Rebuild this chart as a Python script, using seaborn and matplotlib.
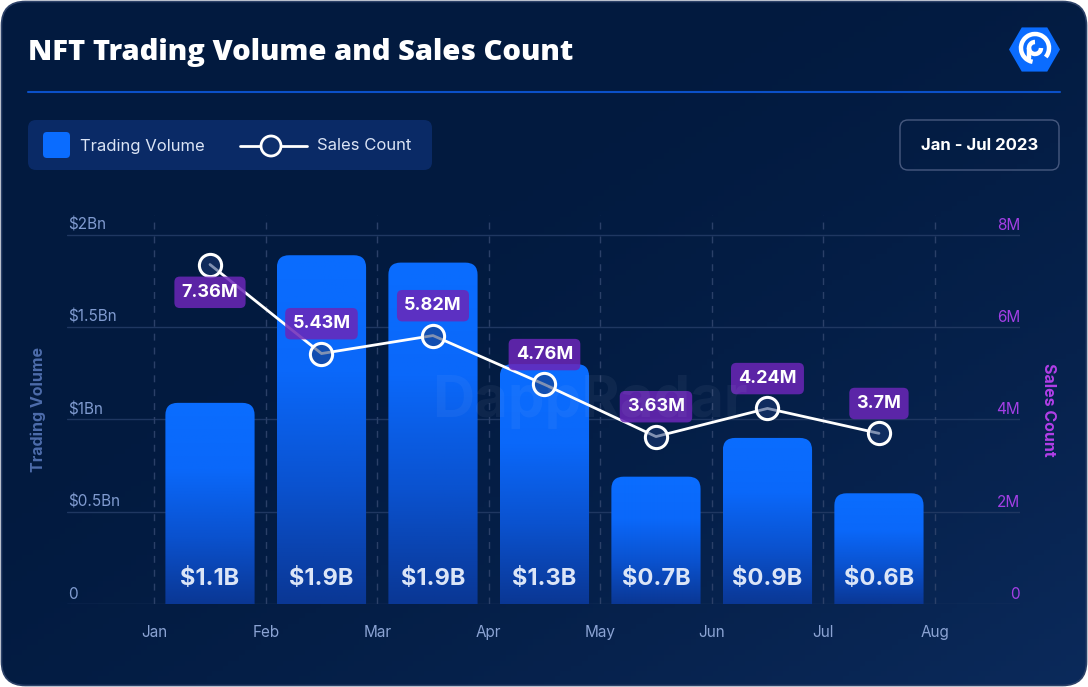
import numpy as np
import pandas as pd
import matplotlib
matplotlib.use("Agg")
import matplotlib.pyplot as plt
import matplotlib.transforms as mtransforms
import seaborn as sns
from matplotlib.patches import FancyBboxPatch, RegularPolygon, Arc, Circle
from matplotlib.colors import LinearSegmentedColormap

# Datos
months = ["Jan", "Feb", "Mar", "Apr", "May", "Jun", "Jul"]
tick_months = ["Jan", "Feb", "Mar", "Apr", "May", "Jun", "Jul", "Aug"]
volume_bn = [1.09, 1.89, 1.85, 1.30, 0.69, 0.90, 0.60]
volume_labels = ["$1.1B", "$1.9B", "$1.9B", "$1.3B", "$0.7B", "$0.9B", "$0.6B"]
sales_m = [7.36, 5.43, 5.82, 4.76, 3.63, 4.24, 3.70]
sales_labels = ["7.36M", "5.43M", "5.82M", "4.76M", "3.63M", "4.24M", "3.7M"]
left_ticks = [0, 0.5, 1, 1.5, 2]
left_tick_labels = ["0", "$0.5Bn", "$1Bn", "$1.5Bn", "$2Bn"]
right_ticks = [0, 2, 4, 6, 8]
right_tick_labels = ["0", "2M", "4M", "6M", "8M"]

sns.set_theme(style="dark")
plt.rcParams["font.family"] = ["Inter", "DejaVu Sans"]

W, H = 1088, 687
fig = plt.figure(figsize=(W / 100, H / 100), dpi=100, facecolor="white")

# Fondo (coordenadas en pixeles)
bg = fig.add_axes([0, 0, 1, 1])
bg.set_xlim(0, W)
bg.set_ylim(H, 0)
bg.axis("off")

card = FancyBboxPatch((1.5, 1.5), W - 3, H - 3, boxstyle="round,pad=0,rounding_size=24",
                      fc="none", ec="#2c4168", lw=1.2, zorder=3)
bg.add_patch(card)
gx, gy = np.meshgrid(np.linspace(0, 1, 200), np.linspace(0, 1, 130))
t = np.clip(gx * 0.6 + (1 - gy) * 0.6 - 0.35, 0, 1) ** 1.6
bg_cmap = LinearSegmentedColormap.from_list("bg", ["#021a3f", "#0b2a5b"])
im = bg.imshow(t, extent=[0, W, H, 0], cmap=bg_cmap, aspect="auto", zorder=1, origin="lower")
im.set_clip_path(card)

# Titulo
bg.text(28, 60, "NFT Trading Volume and Sales Count", color="white", fontsize=21,
        fontweight=800, ha="left", va="baseline", family=["Open Sans", "DejaVu Sans"], zorder=5)
bg.plot([28, 1060], [92, 92], color="#0b50c8", lw=1.5, zorder=5)

# Logo
bg.add_patch(RegularPolygon((1034.5, 49.5), 6, radius=25.5, orientation=np.pi / 6,
                            fc="#0a6cff", ec="none", zorder=5))
bg.add_patch(Arc((1035, 48), 28, 28, theta1=100, theta2=400, color="white", lw=3.2, zorder=6))
bg.add_patch(Arc((1035, 48), 12, 12, theta1=0, theta2=270, color="white", lw=3.2, zorder=6))
bg.plot([1029, 1029], [48, 58], color="white", lw=3.2, solid_capstyle="round", zorder=6)

# Leyenda
bg.add_patch(FancyBboxPatch((28, 120), 404, 50, boxstyle="round,pad=0,rounding_size=8",
                            fc="#0a2a66", ec="none", zorder=5))
bg.add_patch(FancyBboxPatch((43, 132), 27, 26, boxstyle="round,pad=0,rounding_size=4",
                            fc="#0a6cff", ec="none", zorder=6))
bg.text(80, 146, "Trading Volume", color="#dbe4f5", fontsize=12, ha="left", va="center", zorder=6)
bg.plot([240, 307], [146, 146], color="white", lw=2, zorder=6)
bg.add_patch(Circle((271, 146), 10, fc="#0d2f6c", ec="white", lw=2, zorder=7))
bg.text(317, 146, "Sales Count", color="#dbe4f5", fontsize=12, ha="left", va="center", zorder=6)

# Periodo
bg.add_patch(FancyBboxPatch((900, 120), 159, 50, boxstyle="round,pad=0,rounding_size=8",
                            fc="none", ec="#47597f", lw=1, zorder=5))
bg.text(979.5, 146, "Jan - Jul 2023", color="white", fontsize=12, fontweight="bold",
        ha="center", va="center", zorder=6)

# Titulos de ejes
bg.text(38, 410, "Trading Volume", rotation=90, color="#4d6cab", fontsize=11.5,
        fontweight="bold", ha="center", va="center", zorder=5)
bg.text(1048, 410, "Sales Count", rotation=270, color="#b23fe8", fontsize=11.5,
        fontweight="bold", ha="center", va="center", zorder=5)

# Grafico principal
ax = fig.add_axes([67 / W, 83 / H, (1020 - 67) / W, 389 / H])
ax.set_facecolor("none")
df = pd.DataFrame({"month": months, "volume": volume_bn})
sns.barplot(data=df, x="month", y="volume", ax=ax, width=0.8, color="#0a6cff",
            saturation=1, zorder=2)

bar_cmap = LinearSegmentedColormap.from_list("bar", ["#0a3794", "#0a52cf", "#0a68fa", "#0a6dff"])
grad = np.linspace(0, 1, 256).reshape(-1, 1)
for p in list(ax.patches):
    x0, w, h = p.get_x(), p.get_width(), p.get_height()
    p.set_visible(False)
    shape = FancyBboxPatch((x0, -0.15), w, h + 0.15, boxstyle="round,pad=0,rounding_size=0.11",
                           mutation_aspect=0.6, fc="none", ec="none")
    ax.add_patch(shape)
    bar_im = ax.imshow(grad, extent=[x0, x0 + w, 0, h], origin="lower", aspect="auto",
                       cmap=bar_cmap, zorder=2)
    bar_im.set_clip_path(shape)

for i, lbl in enumerate(volume_labels):
    ax.text(i, 0.135, lbl, ha="center", va="center", fontsize=17, fontweight="bold",
            color="#dbe5f7", zorder=4)

# Rejilla
for v in left_ticks:
    ax.axhline(v, color="#1f3761", lw=1, zorder=1)
for k in range(len(tick_months)):
    ax.axvline(k - 0.5, color="#2b4068", lw=1, ls=(0, (5, 5)), zorder=1)

ax.set_xlim(-1.2825, 7.265)
ax.set_ylim(0, 2.108)
ax.set_xticks(np.arange(len(tick_months)) - 0.5)
ax.set_xticklabels(tick_months)
ax.tick_params(axis="x", length=0, pad=15, colors="#8ba3d3", labelsize=11)
ax.set_yticks([])
ax.set_xlabel("")
ax.set_ylabel("")
for s in ax.spines.values():
    s.set_visible(False)

blend = mtransforms.blended_transform_factory(ax.transAxes, ax.transData)
for v, lbl in zip(left_ticks, left_tick_labels):
    ax.annotate(lbl, xy=(0, v), xycoords=blend, xytext=(0.5, 7), textcoords="offset points",
                ha="left", va="center", color="#809bd0", fontsize=11)

# Linea de ventas
ax2 = ax.twinx()
ax2.set_facecolor("none")
sns.lineplot(x=np.arange(len(months)), y=sales_m, ax=ax2, color="white", linewidth=2,
             marker="o", markersize=16, markerfacecolor=(0.1, 0.22, 0.45, 0.55),
             markeredgecolor="white", markeredgewidth=2.2, zorder=5)
ax2.set_ylim(0, 8.434)
ax2.set_xlim(-1.2825, 7.265)
ax2.set_yticks([])
for s in ax2.spines.values():
    s.set_visible(False)

blend2 = mtransforms.blended_transform_factory(ax2.transAxes, ax2.transData)
for v, lbl in zip(right_ticks, right_tick_labels):
    ax2.annotate(lbl, xy=(1, v), xycoords=blend2, xytext=(0, 7), textcoords="offset points",
                 ha="right", va="center", color="#a33fe6", fontsize=11)

for i, (v, lbl) in enumerate(zip(sales_m, sales_labels)):
    off = -20 if i == 0 else 21.5
    ax2.annotate(lbl, xy=(i, v), xytext=(0, off), textcoords="offset points",
                 ha="center", va="center", color="white", fontsize=13, fontweight="bold",
                 zorder=6,
                 bbox=dict(boxstyle="round,pad=0.4,rounding_size=0.3",
                           fc=(0.42, 0.15, 0.72, 0.85), ec="none"))

# Marca de agua
fig.text(590 / W, 1 - 402 / H, "DappRadar", ha="center", va="center", fontsize=42,
         fontweight="bold", color="#c8d4ec", alpha=0.06, zorder=1)

fig.savefig("out.png", dpi=100, facecolor="white")
plt.close()
